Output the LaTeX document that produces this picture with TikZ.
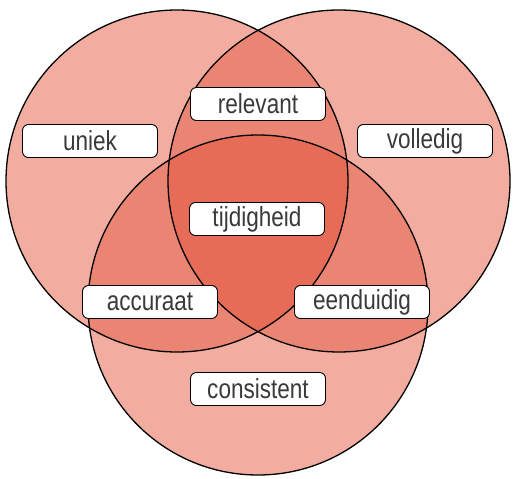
\documentclass[tikz,border=0pt]{standalone}
\usepackage{fontspec}
\setmainfont{Liberation Sans}[FakeStretch=0.82]
\definecolor{light}{HTML}{F2ACA0}
\definecolor{mid}{HTML}{EB8573}
\definecolor{dark}{HTML}{E66C58}
\definecolor{txt}{HTML}{3A3A3A}
\tikzset{
  label box/.style={draw=black, line width=0.9pt, fill=white, rounded corners=6pt,
    minimum width=135pt, minimum height=33pt, inner sep=0pt,
    font=\fontsize{27.5pt}{30pt}\selectfont, text=txt},
  ring/.style={draw=black, line width=1.3pt}
}
\begin{document}
\begin{tikzpicture}[x=1pt,y=-1pt]
\useasboundingbox (0,0) rectangle (518,478);
\def\Lc{(177,181) circle[radius=171]}
\def\Rc{(339,181) circle[radius=171]}
\def\Bc{(258,305) circle[radius=170]}
% single
\fill[light] \Lc; \fill[light] \Rc; \fill[light] \Bc;
% pairs
\begin{scope}\clip \Lc; \fill[mid] \Rc; \fill[mid] \Bc; \end{scope}
\begin{scope}\clip \Rc; \fill[mid] \Bc; \end{scope}
% triple
\begin{scope}\clip \Lc; \clip \Rc; \fill[dark] \Bc; \end{scope}
% outlines
\draw[ring] \Lc; \draw[ring] \Rc; \draw[ring] \Bc;
% labels
\node[label box] (uniek) at (90,141) {uniek};
\node[label box] (relevant) at (258,104) {relevant};
\node[label box] (volledig) at (425,141) {volledig};
\node[label box] (tijdigheid) at (257,219) {tijdigheid};
\node[label box] (accuraat) at (150,302) {accuraat};
\node[label box] (eenduidig) at (362,302) {eenduidig};
\node[label box] (consistent) at (258,389) {consistent};
\end{tikzpicture}
\end{document}
